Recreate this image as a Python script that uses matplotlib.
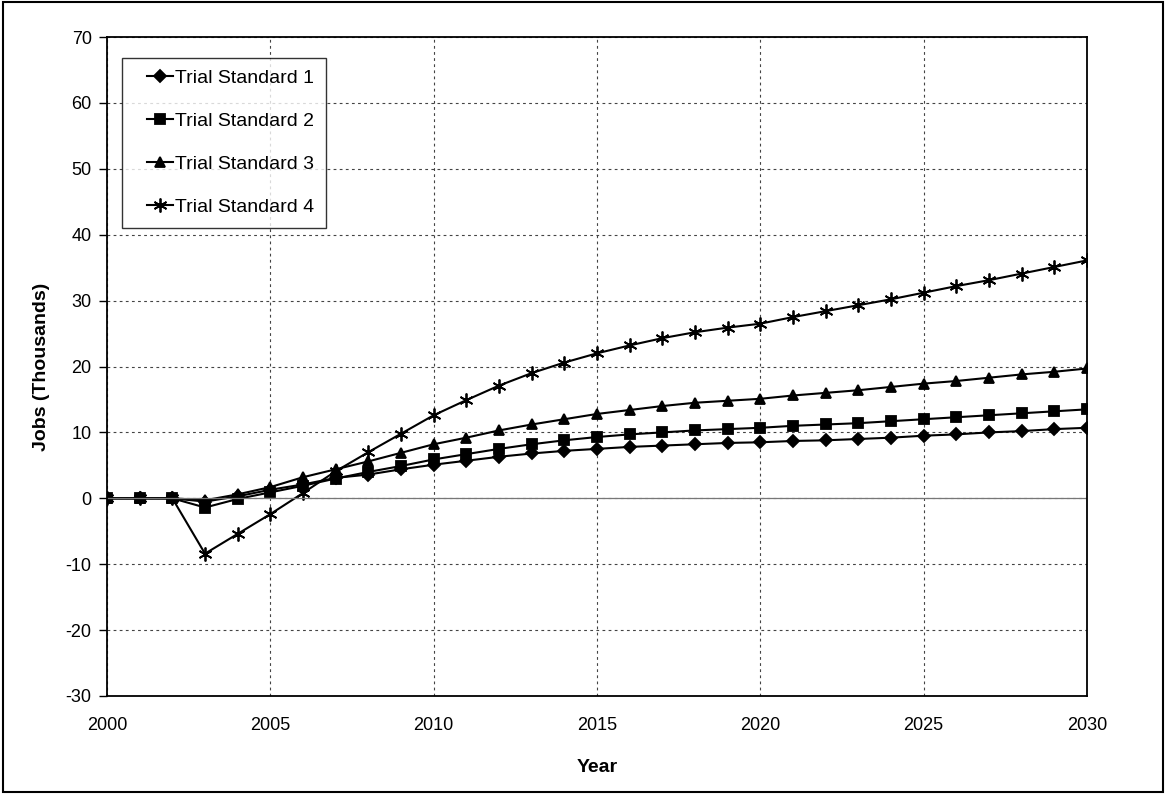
import matplotlib.pyplot as plt
import matplotlib.patches as mpatches
from matplotlib.lines import Line2D
from matplotlib.legend_handler import HandlerLine2D

plt.rcParams['font.family'] = ['Liberation Sans', 'DejaVu Sans']
plt.rcParams['axes.unicode_minus'] = False

years = list(range(2000, 2031))

std1 = [0, 0, 0, -0.5, 0.3, 1.3, 2.1, 3.1, 3.6, 4.4, 5.1, 5.7, 6.3, 6.8, 7.2, 7.5,
        7.8, 8.0, 8.2, 8.4, 8.5, 8.7, 8.8, 9.0, 9.2, 9.5, 9.7, 10.0, 10.2, 10.5, 10.7]
std2 = [0, 0, 0, -1.4, -0.1, 0.9, 1.9, 3.0, 4.0, 4.9, 5.9, 6.7, 7.5, 8.2, 8.8, 9.3,
        9.7, 10.0, 10.3, 10.5, 10.7, 11.0, 11.2, 11.4, 11.7, 12.0, 12.3, 12.6, 12.9, 13.2, 13.5]
std3 = [0, 0, 0, -0.3, 0.6, 1.7, 3.2, 4.4, 5.6, 6.9, 8.2, 9.2, 10.3, 11.2, 12.0, 12.8,
        13.4, 14.0, 14.5, 14.8, 15.1, 15.6, 16.0, 16.4, 16.9, 17.4, 17.8, 18.3, 18.8, 19.2, 19.7]
std4 = [0, 0, 0, -8.4, -5.4, -2.4, 0.8, 4.1, 7.0, 9.8, 12.6, 14.9, 17.1, 19.0, 20.6, 22.0,
        23.2, 24.3, 25.2, 25.9, 26.5, 27.5, 28.4, 29.3, 30.2, 31.2, 32.2, 33.1, 34.1, 35.1, 36.1]

labels = ['Trial Standard 1', 'Trial Standard 2', 'Trial Standard 3', 'Trial Standard 4']
markers = ['D', 's', '^', (6, 2, 0)]
sizes = [6.5, 7, 7.5, 10]

fig = plt.figure(figsize=(11.66, 7.94), dpi=100)
ax = fig.add_axes([107 / 1166, 1 - 696 / 794, 980 / 1166, 659 / 794])

for vals, lab, m, s in zip([std1, std2, std3, std4], labels, markers, sizes):
    ax.plot(years, vals, color='black', linewidth=1.5, marker=m, markersize=s,
            markeredgewidth=1.3, label=lab)

ax.set_xlim(2000, 2030)
ax.set_ylim(-30, 70)
ax.set_xticks(range(2000, 2031, 5))
ax.set_yticks(range(-30, 71, 10))
ax.grid(True, color='#444444', linestyle=(0, (2.5, 3)), linewidth=0.8)
ax.axhline(0, color='#777777', linewidth=0.9)
ax.set_axisbelow(True)

for sp in ax.spines.values():
    sp.set_linewidth(1.3)
ax.tick_params(axis='x', length=0, pad=15, labelsize=13)
ax.tick_params(axis='y', length=6, direction='out', labelsize=13, width=1, pad=5)

ax.set_xlabel('Year', fontsize=14, fontweight='bold', labelpad=18)
ax.set_ylabel('Jobs (Thousands)', fontsize=14, fontweight='bold', labelpad=11)

# shift the legend lines right a bit, like the original
leg = ax.legend(loc='upper left', bbox_to_anchor=(15 / 980, 1 - 21 / 659),
                borderaxespad=0, fontsize=14, frameon=True, fancybox=False,
                edgecolor='black', handlelength=2.0, labelspacing=1.3,
                borderpad=0.6, handletextpad=0.15,
                handler_map={Line2D: HandlerLine2D(xpad=0.68)})
leg.get_frame().set_linewidth(1.0)

fig.patches.append(mpatches.Rectangle((0.003, 0.003), 0.994, 0.994, transform=fig.transFigure,
                                      fill=False, edgecolor='black', linewidth=1.5))

fig.savefig('out.png', dpi=100)
